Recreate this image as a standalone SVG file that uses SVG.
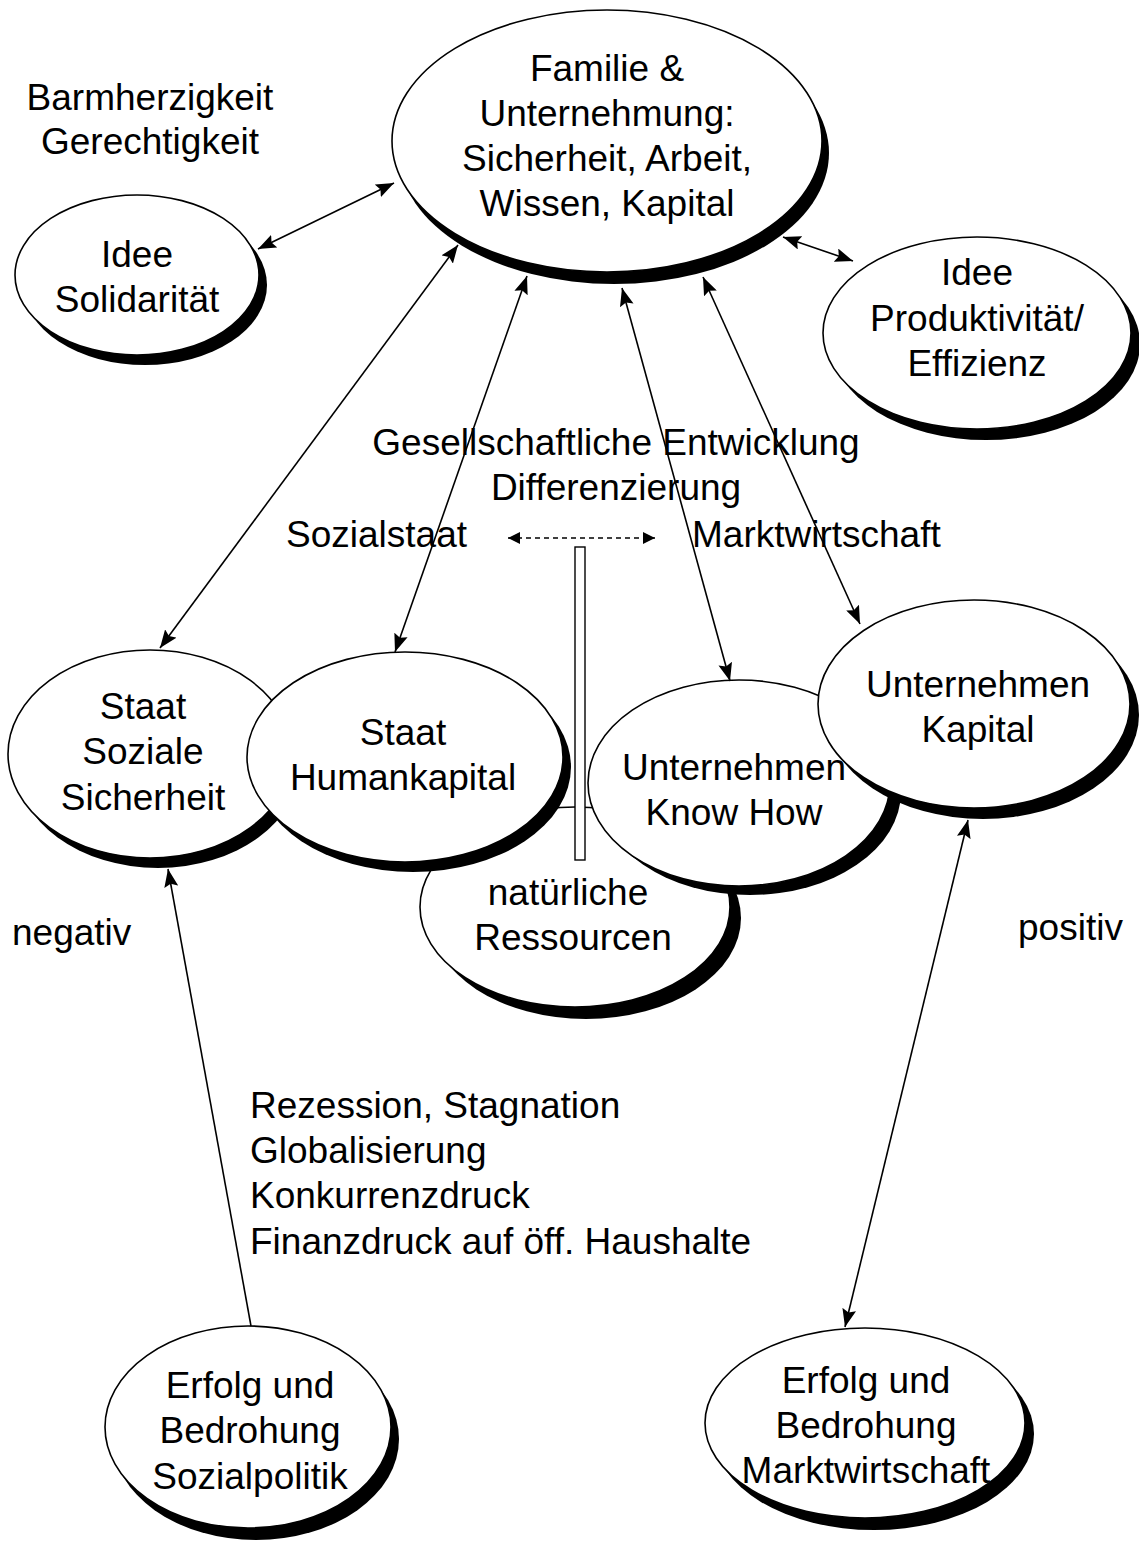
<svg xmlns="http://www.w3.org/2000/svg" width="1139" height="1542" viewBox="0 0 1139 1542">
<defs>
<style>
text{font-family:"Liberation Sans",Arial,sans-serif;font-size:37px;fill:#000;}
.c{text-anchor:middle;}
.sh{fill:#000;stroke:none;}
.el{fill:#fff;stroke:#000;stroke-width:1.6;}
.ln{stroke:#000;stroke-width:1.6;fill:none;}
</style>
<marker id="ah" viewBox="0 0 18 14" refX="18" refY="7" markerWidth="18" markerHeight="14" markerUnits="userSpaceOnUse" orient="auto-start-reverse">
<path d="M0,0 L18,7 L0,14 L3,7 z" fill="#000"/>
</marker>
<marker id="ahs" viewBox="0 0 12 12" refX="12" refY="6" markerWidth="12" markerHeight="12" markerUnits="userSpaceOnUse" orient="auto-start-reverse">
<path d="M0,0 L12,6 L0,12 z" fill="#000"/>
</marker>
</defs>
<rect width="1139" height="1542" fill="#fff"/>

<g id="label-barmherzigkeit">
<text class="c" x="150" y="110">Barmherzigkeit</text>
<text class="c" x="150" y="154">Gerechtigkeit</text>
</g>

<g id="node-familie">
<ellipse class="sh" cx="614" cy="153" rx="215" ry="131"/>
<ellipse class="el" cx="607" cy="141" rx="215" ry="131"/>
<text class="c" x="607" y="81">Familie &amp;</text>
<text class="c" x="607" y="126">Unternehmung:</text>
<text class="c" x="607" y="171">Sicherheit, Arbeit,</text>
<text class="c" x="607" y="216">Wissen, Kapital</text>
</g>

<g id="node-solidaritaet">
<ellipse class="sh" cx="145" cy="285" rx="122" ry="80"/>
<ellipse class="el" cx="137" cy="275" rx="122" ry="80"/>
<text class="c" x="137" y="267">Idee</text>
<text class="c" x="137" y="312">Solidarität</text>
</g>

<g id="node-produktivitaet">
<ellipse class="sh" cx="986" cy="344" rx="154" ry="96"/>
<ellipse class="el" cx="977" cy="333" rx="154" ry="96"/>
<text class="c" x="977" y="285">Idee</text>
<text class="c" x="977" y="331">Produktivität/</text>
<text class="c" x="977" y="376">Effizienz</text>
</g>

<g id="label-gesellschaft">
<text class="c" x="616" y="455">Gesellschaftliche Entwicklung</text>
<text class="c" x="616" y="500">Differenzierung</text>
<text x="286" y="547">Sozialstaat</text>
<text x="692" y="547">Marktwirtschaft</text>
</g>

<g id="node-ressourcen">
<ellipse class="sh" cx="586" cy="918" rx="155" ry="101"/>
<ellipse class="el" cx="575" cy="907" rx="155" ry="100"/>
<text class="c" x="568" y="905">natürliche</text>
<text class="c" x="573" y="950">Ressourcen</text>
</g>

<g id="node-staat-sicherheit">
<ellipse class="sh" cx="158" cy="764" rx="142" ry="104"/>
<ellipse class="el" cx="150" cy="754" rx="142" ry="104"/>
<text class="c" x="143" y="719">Staat</text>
<text class="c" x="143" y="764">Soziale</text>
<text class="c" x="143" y="810">Sicherheit</text>
</g>

<g id="node-staat-humankapital">
<ellipse class="sh" cx="413" cy="767" rx="158" ry="105"/>
<ellipse class="el" cx="405" cy="757" rx="158" ry="105"/>
<text class="c" x="403" y="745">Staat</text>
<text class="c" x="403" y="790">Humankapital</text>
</g>

<g id="node-knowhow">
<ellipse class="sh" cx="750" cy="792" rx="151" ry="103"/>
<ellipse class="el" cx="739" cy="783" rx="151" ry="103"/>
<text class="c" x="734" y="780">Unternehmen</text>
<text class="c" x="734" y="825">Know How</text>
</g>

<g id="node-kapital">
<ellipse class="sh" cx="983" cy="715" rx="156" ry="104"/>
<ellipse class="el" cx="974" cy="704" rx="156" ry="104"/>
<text class="c" x="978" y="697">Unternehmen</text>
<text class="c" x="978" y="742">Kapital</text>
</g>

<g id="bar">
<rect x="575" y="547" width="10" height="313" fill="#fff" stroke="#000" stroke-width="1.4"/>
</g>

<g id="label-negativ"><text x="12" y="945">negativ</text></g>
<g id="label-positiv"><text x="1018" y="940">positiv</text></g>

<g id="label-bedrohungen">
<text x="250" y="1118">Rezession, Stagnation</text>
<text x="250" y="1163">Globalisierung</text>
<text x="250" y="1208">Konkurrenzdruck</text>
<text x="250" y="1254">Finanzdruck auf öff. Haushalte</text>
</g>

<g id="node-erfolg-sozialpolitik">
<ellipse class="sh" cx="256" cy="1439" rx="143" ry="101"/>
<ellipse class="el" cx="248" cy="1427" rx="143" ry="101"/>
<text class="c" x="250" y="1398">Erfolg und</text>
<text class="c" x="250" y="1443">Bedrohung</text>
<text class="c" x="250" y="1489">Sozialpolitik</text>
</g>

<g id="node-erfolg-marktwirtschaft">
<ellipse class="sh" cx="874" cy="1434" rx="160" ry="96"/>
<ellipse class="el" cx="865" cy="1423" rx="160" ry="95"/>
<text class="c" x="866" y="1393">Erfolg und</text>
<text class="c" x="866" y="1438">Bedrohung</text>
<text class="c" x="866" y="1483">Marktwirtschaft</text>
</g>

<g id="connectors">
<line class="ln" x1="258" y1="249" x2="394" y2="183" marker-start="url(#ah)" marker-end="url(#ah)"/>
<line class="ln" x1="783" y1="237" x2="853" y2="261" marker-start="url(#ah)" marker-end="url(#ah)"/>
<line class="ln" x1="458" y1="245" x2="160" y2="648" marker-start="url(#ah)" marker-end="url(#ah)"/>
<line class="ln" x1="527" y1="276" x2="395" y2="652" marker-start="url(#ah)" marker-end="url(#ah)"/>
<line class="ln" x1="622" y1="288" x2="730" y2="681" marker-start="url(#ah)" marker-end="url(#ah)"/>
<line class="ln" x1="703" y1="277" x2="860" y2="624" marker-start="url(#ah)" marker-end="url(#ah)"/>
<line class="ln" x1="251" y1="1326" x2="168" y2="869" marker-end="url(#ah)"/>
<line class="ln" x1="968" y1="820" x2="845" y2="1327" marker-start="url(#ah)" marker-end="url(#ah)"/>
<line class="ln" x1="508" y1="538" x2="655" y2="538" stroke-dasharray="5,4" marker-start="url(#ahs)" marker-end="url(#ahs)"/>
</g>
</svg>
